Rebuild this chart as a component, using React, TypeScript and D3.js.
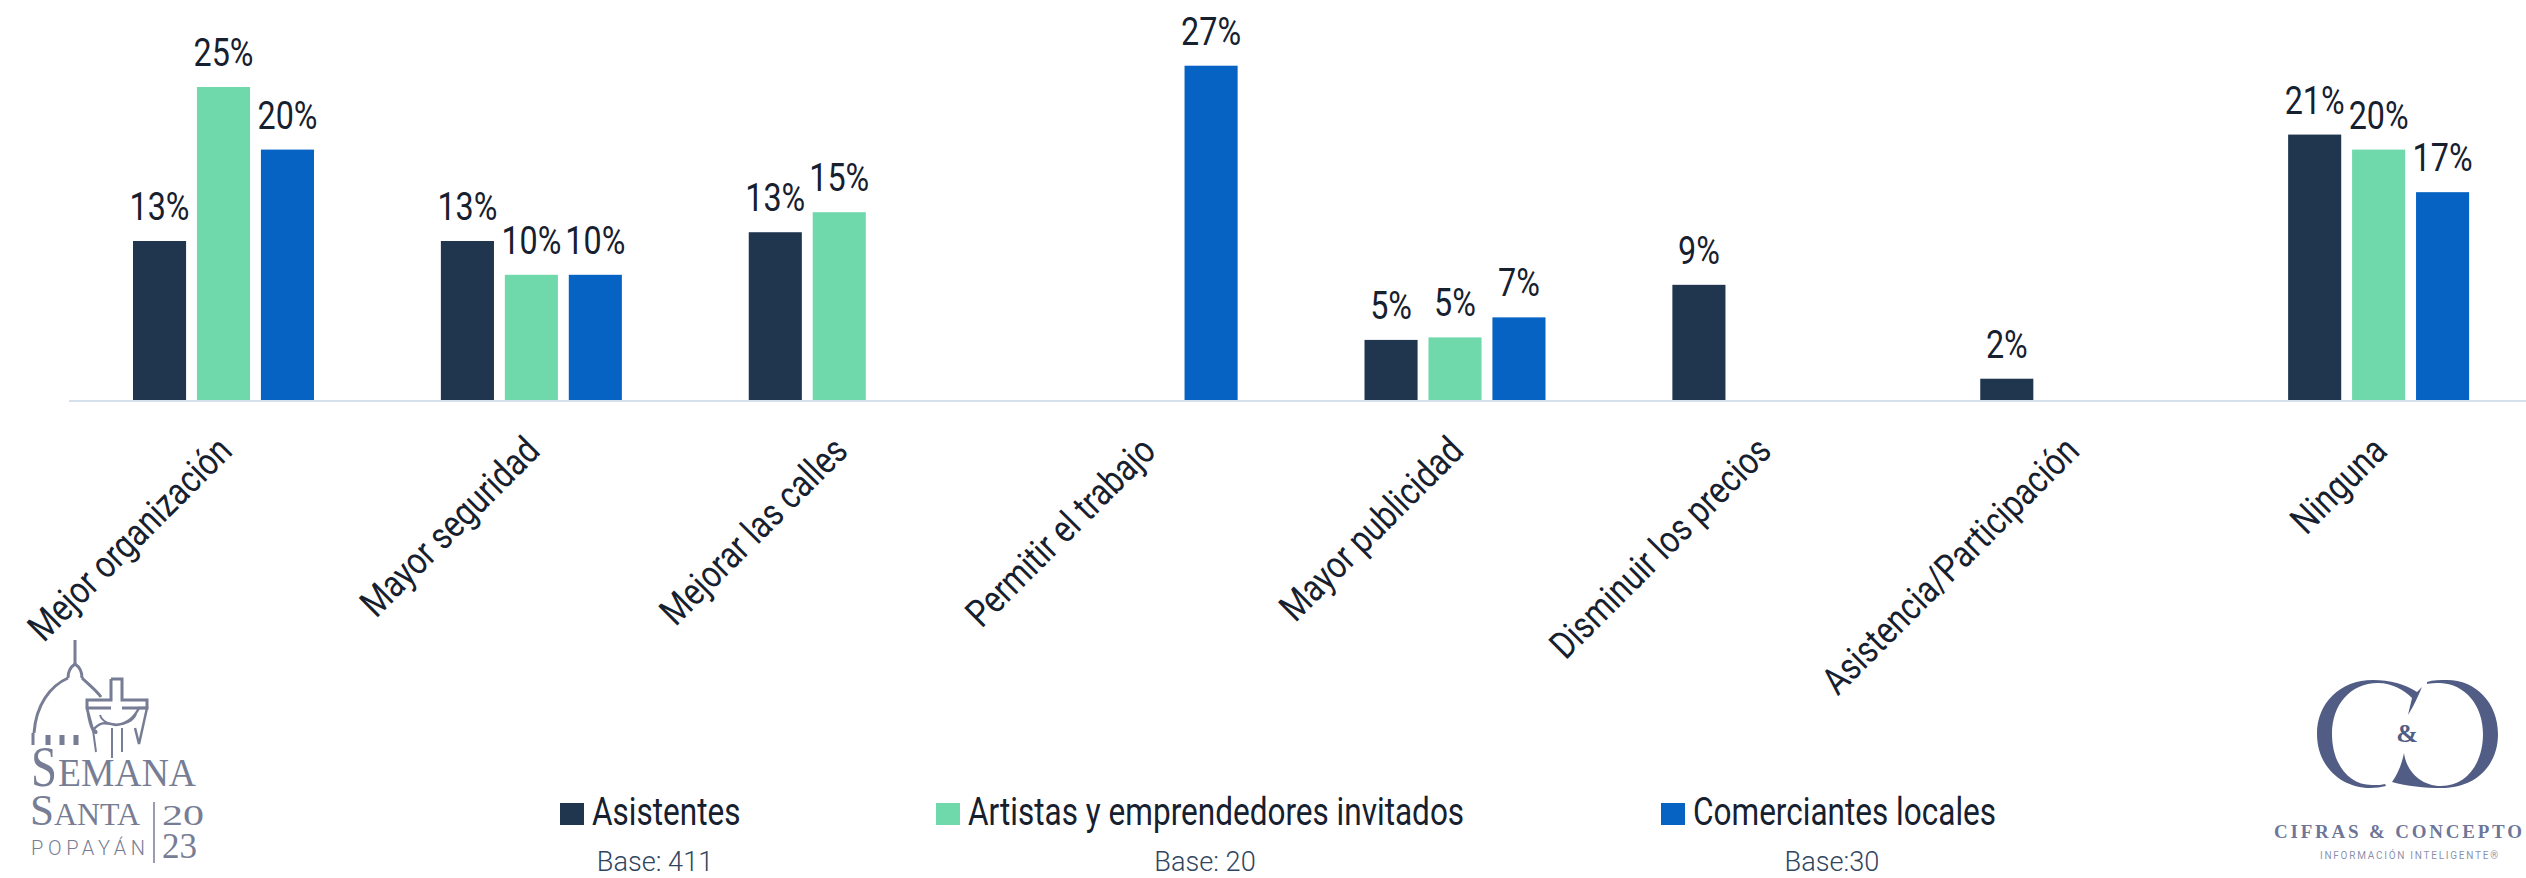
import * as d3 from "d3";

const categories = [
  "Mejor organización",
  "Mayor seguridad",
  "Mejorar las calles",
  "Permitir el trabajo",
  "Mayor publicidad",
  "Disminuir los precios",
  "Asistencia/Participación",
  "Ninguna",
];
const asistentes = [12.7, 12.7, 13.4, null, 4.8, 9.2, 1.7, 21.2];
const artistas = [25, 10, 15, null, 5, null, null, 20];
const comerciantes = [20, 10, null, 26.7, 6.6, null, null, 16.6];
const seriesNames = ["Asistentes", "Artistas y emprendedores invitados", "Comerciantes locales"];
const seriesBases = ["Base: 411", "Base: 20", "Base:30"];
const seriesColors = ["#20364f", "#70d9ab", "#0663c3"];

const WIDTH = 2526;
const HEIGHT = 878;
const BASELINE = 400;
const FONT = "Roboto, sans-serif";
const SERIF = "'Liberation Serif', serif";

const seriesValues = [asistentes, artistas, comerciantes];

const x0 = d3.scaleBand<string>().domain(categories).range([68, 2531]);
const x1 = d3.scaleBand<number>().domain([0, 1, 2]).range([65, 246]).paddingInner(0.17);
const y = d3.scaleLinear().domain([0, 25]).range([BASELINE, 87]);

const legendX = [560, 936, 1661];
const baseX = [655, 1205, 1832];

function SemanaLogo() {
  const ink = "#777d94";
  return (
    <g>
      <g fill="none" stroke={ink} strokeWidth={3}>
        <path d="M75 640 L75 664" strokeWidth={3} />
        <path d="M68 678 C68 670 72 666 75 664 C78 666 82 670 82 678" />
        <path d="M34 733 C36 705 50 686 68 678 M82 678 C88 684 96 690 101 697" />
        <path d="M33 733 L33 745" />
        <path d="M48 735 L48 745 M62 735 L62 745 M76 735 L76 745" strokeWidth={5} />
        <path d="M111 679 L122 679 L122 700 L147 700 L147 708 L122 708 M111 679 L111 700 L87 700 L87 708 L111 708" strokeWidth={3} />
        <path d="M87 708 L93 730 C100 722 104 722 116 725 C126 724 134 718 139 708 L147 708 L139 744 L135 728" strokeWidth={2.5} />
        <path d="M87 708 C92 745 102 730 93 730 M100 715 C104 728 130 728 136 714" strokeWidth={2} />
        <path d="M93 730 L96 752 M112 728 L112 758 M122 728 L122 752" strokeWidth={2} />
        <path d="M154 802 L154 863" strokeWidth={1.5} />
      </g>
      <g fill={ink} fontFamily={SERIF}>
        <text x={31} y={786} fontSize={56} textLength={26} lengthAdjust="spacingAndGlyphs">S</text>
        <text x={58} y={786} fontSize={39} textLength={138} lengthAdjust="spacingAndGlyphs">EMANA</text>
        <text x={30} y={825} fontSize={45} textLength={24} lengthAdjust="spacingAndGlyphs">S</text>
        <text x={54} y={825} fontSize={31} textLength={86} lengthAdjust="spacingAndGlyphs">ANTA</text>
        <text x={162} y={825} fontSize={30} textLength={42} lengthAdjust="spacingAndGlyphs">20</text>
        <text x={162} y={858} fontSize={36} textLength={35} lengthAdjust="spacingAndGlyphs">23</text>
        <text x={31} y={855} fontSize={20} fontFamily={FONT} fontWeight={300} textLength={114}>POPAYÁN</text>
      </g>
    </g>
  );
}

function CifrasLogo() {
  const color = "#525d85";
  return (
    <g fill={color}>
      <path d="M2373 680 C2340 680 2317 703 2317 734 C2317 767 2342 788 2370 788 C2376 788 2381 787 2386 786 L2385 784 C2382 785 2378 785 2372 785 C2348 785 2332 763 2332 734 C2332 705 2350 683 2378 683 C2392 683 2404 690 2412 698 L2408 715 C2414 706 2418 696 2422 687 L2417 692 C2405 684 2390 680 2373 680 Z" />
      <path d="M2427 682 C2433 680 2440 680 2447 680 C2476 680 2498 703 2498 734 C2498 767 2474 788 2442 788 C2424 788 2407 786 2392 782 C2398 774 2402 763 2404 753 C2406 770 2420 786 2441 786 C2467 786 2483 763 2483 734 C2483 705 2465 684 2440 683 C2435 683 2431 683 2427 684 Z" />
      <text x={2407} y={742} textAnchor="middle" fontFamily={SERIF} fontWeight={700} fontSize={26}>&amp;</text>
      <text x={2274} y={838} fontFamily={SERIF} fontWeight={700} fontSize={19} textLength={248} fillOpacity={0.85}>CIFRAS &amp; CONCEPTO</text>
      <text x={2320} y={859} fontFamily={FONT} fontSize={10} textLength={178} fillOpacity={0.7}>INFORMACIÓN INTELIGENTE®</text>
    </g>
  );
}

export default function App() {
  return (
    <svg
      width={WIDTH}
      height={HEIGHT}
      style={{ position: "absolute", left: 0, top: 0, background: "#fff" }}
      fontFamily={FONT}
    >
      <line x1={69} x2={2526} y1={BASELINE + 1} y2={BASELINE + 1} stroke="#d5e2ee" strokeWidth={2} />

      {categories.map((cat, c) => (
        <g key={cat}>
          {seriesValues.map((vals, s) => {
            const v = vals[c];
            if (v == null) return null;
            const bx = (x0(cat) ?? 0) + (x1(s) ?? 0);
            const cx = bx + x1.bandwidth() / 2;
            return (
              <g key={s}>
                <rect x={bx} y={y(v)} width={x1.bandwidth()} height={BASELINE - y(v)} fill={seriesColors[s]} />
                <text
                  transform={`translate(${cx},${y(v) - 21}) scale(0.85,1)`}
                  textAnchor="middle"
                  fontSize={38}
                  fill="#16202e"
                >
                  {d3.format(".0f")(v)}%
                </text>
              </g>
            );
          })}
          <text
            transform={`translate(${(x0(cat) ?? 0) + 166},${BASELINE + 53}) rotate(-45) scale(0.83,1)`}
            textAnchor="end"
            fontSize={38}
            fill="#16202e"
          >
            {cat}
          </text>
        </g>
      ))}

      {seriesNames.map((name, s) => (
        <g key={name}>
          <rect x={legendX[s]} y={803} width={24} height={22} fill={seriesColors[s]} />
          <text transform={`translate(${legendX[s] + 32},825) scale(0.83,1)`} fontSize={38} fill="#16202e">
            {name}
          </text>
          <text
            transform={`translate(${baseX[s]},871) scale(0.97,1)`}
            textAnchor="middle"
            fontSize={28}
            fontWeight={300}
            fill="#2f4560"
          >
            {seriesBases[s]}
          </text>
        </g>
      ))}

      <SemanaLogo />
      <CifrasLogo />
    </svg>
  );
}
